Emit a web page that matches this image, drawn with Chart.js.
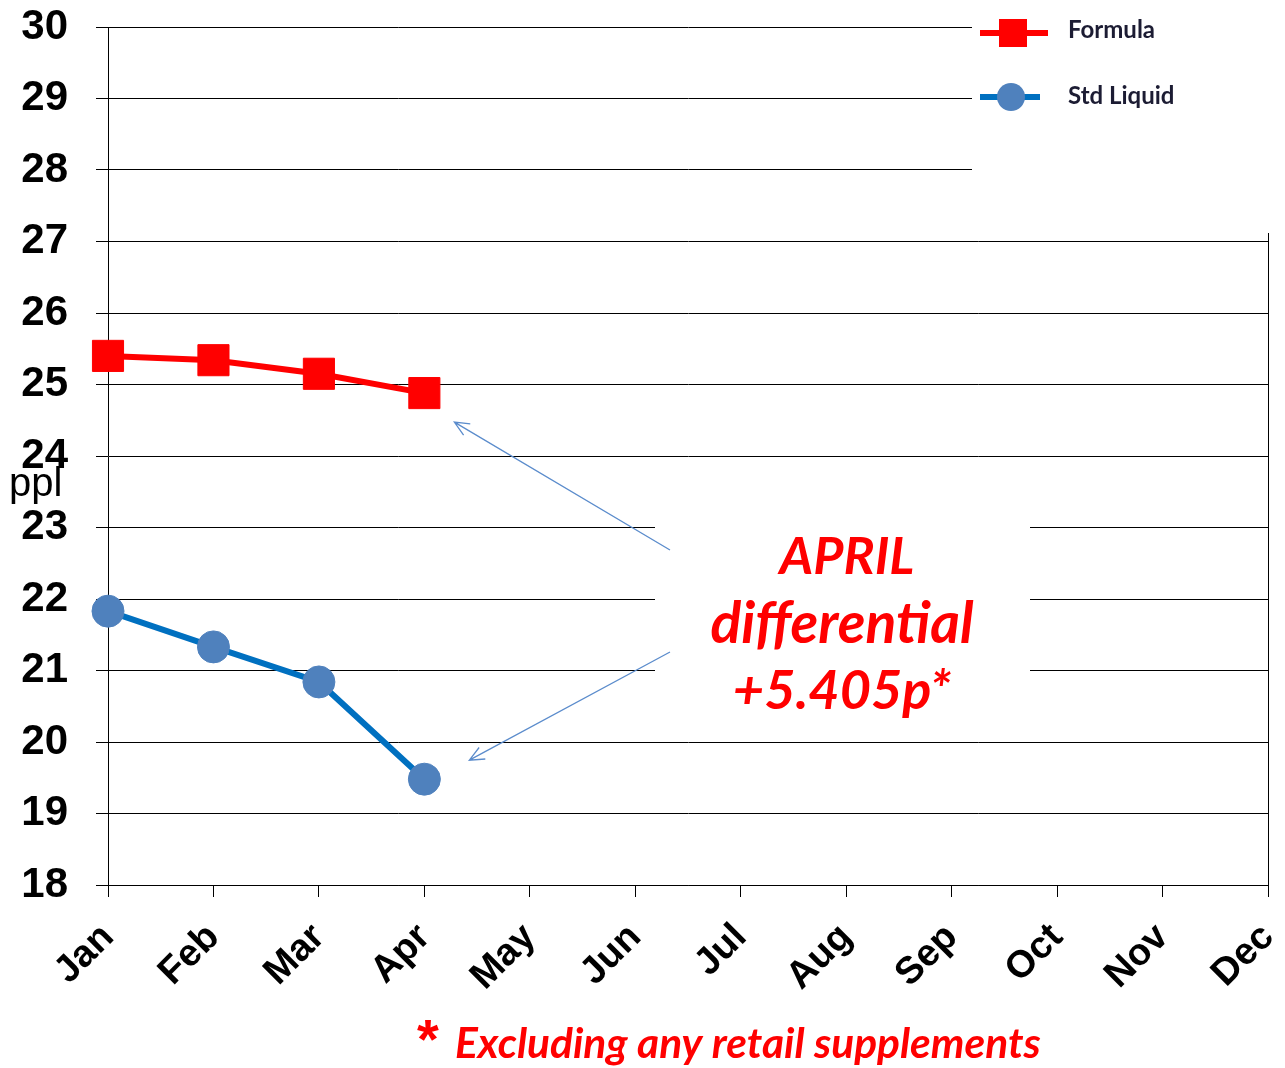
<!DOCTYPE html>
<html>
<head>
    <title>ppl - Formula vs Std Liquid</title>
    <script src="https://cdn.jsdelivr.net/npm/chart.js"></script>
    <style>
        body { margin: 0; background: #fff; }
        #wrap { width: 1285px; height: 1068px; position: relative; }
    </style>
</head>
<body>
    <div id="wrap"><canvas id="pplChart"></canvas></div>

    <script>
        // data
        const months = ['Jan', 'Feb', 'Mar', 'Apr', 'May', 'Jun', 'Jul', 'Aug', 'Sep', 'Oct', 'Nov', 'Dec'];
        const formula = [25.40, 25.34, 25.15, 24.88, null, null, null, null, null, null, null, null];
        const stdLiquid = [21.83, 21.33, 20.84, 19.48, null, null, null, null, null, null, null, null];
        const yMin = 18, yMax = 30, yStep = 1;
        const axisTitle = 'ppl';
        const noteLines = ['APRIL', 'differential', '+5.405p*'];
        const footnote = 'Excluding any retail supplements';

        const RED = '#FF0000';
        const BLUE_LINE = '#0070C0';
        const BLUE_DOT = '#4F81BD';

        function arrow(ctx, x1, y1, x2, y2) {
            const ang = Math.atan2(y2 - y1, x2 - x1);
            const len = 16, spread = 0.42;
            ctx.beginPath();
            ctx.moveTo(x1, y1);
            ctx.lineTo(x2, y2);
            ctx.moveTo(x2 - len * Math.cos(ang - spread), y2 - len * Math.sin(ang - spread));
            ctx.lineTo(x2, y2);
            ctx.lineTo(x2 - len * Math.cos(ang + spread), y2 - len * Math.sin(ang + spread));
            ctx.stroke();
        }

        // legend, note box, arrows, axis title and footnote
        const extras = {
            id: 'extras',
            afterDraw(chart) {
                const ctx = chart.ctx;
                const a = chart.chartArea;
                const xs = chart.scales.x, ys = chart.scales.y;
                ctx.save();

                // right border of plot area
                ctx.strokeStyle = '#000';
                ctx.lineWidth = 1;
                ctx.beginPath();
                ctx.moveTo(a.right + 0.5, a.top);
                ctx.lineTo(a.right + 0.5, a.bottom);
                ctx.stroke();

                // legend box
                ctx.fillStyle = '#fff';
                ctx.fillRect(972, 0, 313, 233);

                ctx.lineWidth = 6;
                ctx.strokeStyle = RED;
                ctx.beginPath(); ctx.moveTo(980, 33); ctx.lineTo(1048, 33); ctx.stroke();
                ctx.fillStyle = RED;
                ctx.fillRect(999, 19, 28, 28);

                ctx.strokeStyle = BLUE_LINE;
                ctx.beginPath(); ctx.moveTo(980, 97); ctx.lineTo(1040, 97); ctx.stroke();
                ctx.fillStyle = BLUE_DOT;
                ctx.beginPath(); ctx.arc(1011, 97, 14, 0, Math.PI * 2); ctx.fill();

                ctx.fillStyle = '#1c1c33';
                ctx.font = 'bold 24px Lato';
                ctx.textBaseline = 'middle';
                ctx.textAlign = 'left';
                ctx.fillText(chart.data.datasets[0].label, 1068, 30);
                ctx.fillText(chart.data.datasets[1].label, 1068, 96);

                // note box
                ctx.fillStyle = '#fff';
                ctx.fillRect(655, 500, 375, 220);
                ctx.fillStyle = RED;
                ctx.textAlign = 'center';
                ctx.font = 'italic bold 52px Lato';
                ctx.fillText(noteLines[0], 847, 557);
                ctx.font = 'italic bold 57px Lato';
                ctx.fillText(noteLines[1], 842, 625);
                ctx.font = 'italic bold 54px Lato';
                ctx.fillText(noteLines[2], 842, 692);

                // arrows to the April points
                const xApr = xs.getPixelForValue(3);
                ctx.strokeStyle = '#5b8ccc';
                ctx.lineWidth = 1.3;
                arrow(ctx, 670, 550, xApr + 30, ys.getPixelForValue(formula[3]) + 29);
                arrow(ctx, 670, 652, xApr + 45, ys.getPixelForValue(stdLiquid[3]) - 19);

                // axis title
                ctx.fillStyle = '#000';
                ctx.textAlign = 'left';
                ctx.textBaseline = 'alphabetic';
                ctx.font = '40px "Liberation Sans"';
                ctx.fillText(axisTitle, 9, 496);

                // footnote
                ctx.fillStyle = RED;
                ctx.font = 'bold 56px "Liberation Sans"';
                ctx.fillText('*', 417, 1058);
                ctx.font = 'italic bold 42.5px Lato';
                ctx.fillText(footnote, 455, 1058);

                ctx.restore();
            }
        };

        new Chart(document.getElementById('pplChart'), {
            type: 'line',
            data: {
                labels: months,
                datasets: [{
                    label: 'Formula',
                    data: formula,
                    borderColor: RED,
                    borderWidth: 6,
                    pointStyle: 'rect',
                    pointRadius: 22,
                    pointBackgroundColor: RED,
                    pointBorderColor: RED,
                    pointBorderWidth: 1
                }, {
                    label: 'Std Liquid',
                    data: stdLiquid,
                    borderColor: BLUE_LINE,
                    borderWidth: 6,
                    pointStyle: 'circle',
                    pointRadius: 16,
                    pointBackgroundColor: BLUE_DOT,
                    pointBorderColor: BLUE_DOT,
                    pointBorderWidth: 1
                }]
            },
            options: {
                responsive: true,
                maintainAspectRatio: false,
                animation: false,
                layout: { autoPadding: false, padding: { top: 27, right: 17, left: 0, bottom: 0 } },
                plugins: {
                    legend: { display: false },
                    tooltip: { enabled: false }
                },
                scales: {
                    x: {
                        offset: false,
                        grid: { drawOnChartArea: false, tickLength: 12, color: '#000' },
                        border: { color: '#000' },
                        ticks: {
                            color: '#000',
                            font: { family: 'Liberation Sans', weight: 'bold', size: 38 },
                            minRotation: 45,
                            maxRotation: 45,
                            autoSkip: false,
                            padding: 18
                        },
                        afterFit(s) { s.height = 183; s.paddingLeft = 0; s.paddingRight = 0; }
                    },
                    y: {
                        min: yMin,
                        max: yMax,
                        grid: { color: '#000', tickLength: 12 },
                        border: { color: '#000' },
                        ticks: {
                            stepSize: yStep,
                            color: '#000',
                            font: { family: 'Liberation Sans', weight: 'bold', size: 42 },
                            padding: 28
                        },
                        afterFit(s) { s.width = 108; s.paddingTop = 0; s.paddingBottom = 0; }
                    }
                }
            },
            plugins: [extras]
        });
    </script>
</body>
</html>
